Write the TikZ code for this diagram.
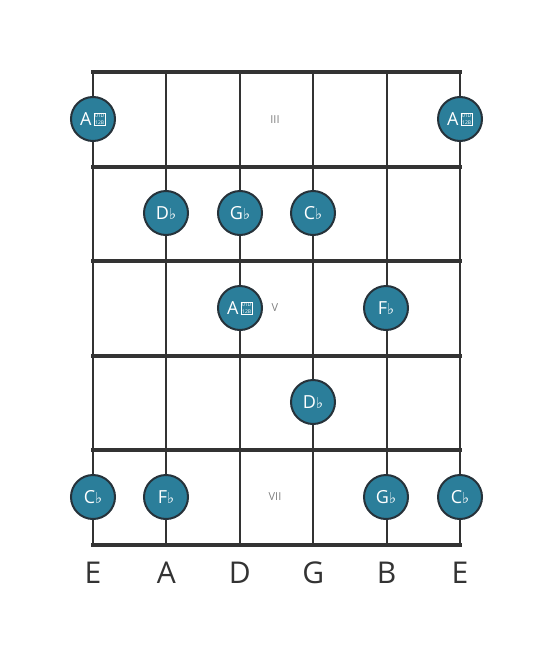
\documentclass[tikz,border=0pt]{standalone}
\usepackage{fontspec}
\setmainfont{Open Sans}
\newfontfamily\symfont{DejaVu Sans}
\definecolor{notefill}{HTML}{2B7E9A}
\definecolor{notedraw}{HTML}{26323A}
\definecolor{gridline}{HTML}{333333}
\newcommand{\fl}{{\symfont\fontsize{15}{15}\selectfont ♭}}
\newcommand{\tofu}{\hspace{2pt}\raisebox{0.5pt}{\setlength{\fboxsep}{0.8pt}\setlength{\fboxrule}{0.6pt}\fbox{\fontsize{5}{7.2}\selectfont\shortstack{01D\\12B}}}}
\tikzset{
	note/.style={circle,draw=notedraw,fill=notefill,line width=2pt,minimum size=44pt,inner sep=0pt,text=white,font=\fontsize{18}{18}\selectfont},
	fretnum/.style={text=gray,font=\fontsize{11}{11}\selectfont},
	strname/.style={text=gridline,font=\fontsize{30}{30}\selectfont}
}
\begin{document}
\begin{tikzpicture}[x=1pt,y=-1pt]
	\useasboundingbox (0,0) rectangle (553,656);

	\foreach \s in {0,...,5}
		\draw[gridline,line width=2pt] (93+\s*73.4,72) -- (93+\s*73.4,545);
	\foreach \f in {0,...,5}
		\draw[gridline,line width=4pt] (91,72+\f*94.6) -- (462,72+\f*94.6);

	\node[fretnum] (f3) at (275,120) {III};
	\node[fretnum] (f5) at (275,308) {V};
	\node[fretnum] (f7) at (275,497) {VII};

	\node[note] (n1) at (93,119) {A\tofu};
	\node[note] (n2) at (460,119) {A\tofu};
	\node[note] (n3) at (166,213) {D\fl};
	\node[note] (n4) at (240,213) {G\fl};
	\node[note] (n5) at (313,213) {C\fl};
	\node[note] (n6) at (240,308) {A\tofu};
	\node[note] (n7) at (386,308) {F\fl};
	\node[note] (n8) at (313,402) {D\fl};
	\node[note] (n9) at (93,497) {C\fl};
	\node[note] (n10) at (166,497) {F\fl};
	\node[note] (n11) at (386,497) {G\fl};
	\node[note] (n12) at (460,497) {C\fl};

	\foreach \n [count=\s from 0] in {E,A,D,G,B,E}
		\node[strname] (s\s) at (93+\s*73.4,573) {\n};
\end{tikzpicture}
\end{document}
